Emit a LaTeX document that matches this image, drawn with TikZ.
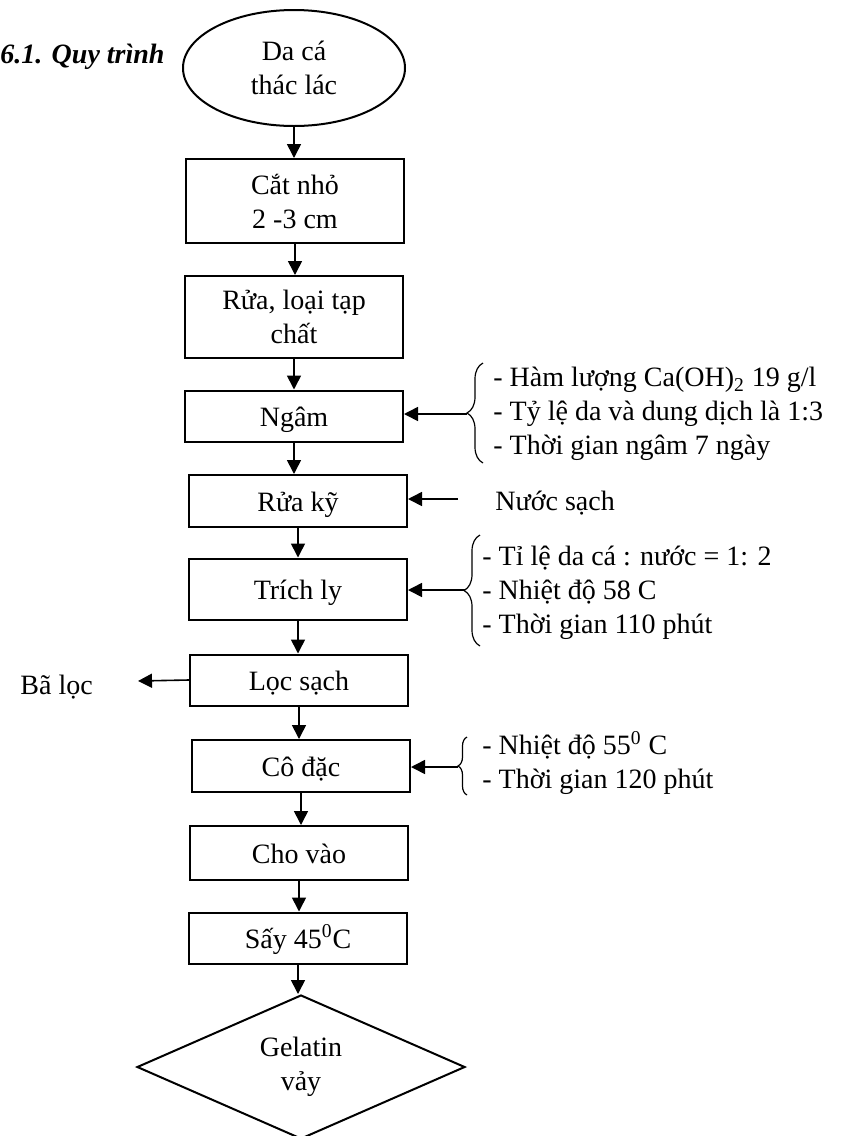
\documentclass[tikz,border=0pt]{standalone}
\usepackage{fontspec}
\setmainfont{Liberation Serif}
\usepackage{tikz}
\usetikzlibrary{arrows.meta,positioning,calc,shapes.geometric,decorations.pathreplacing}

\newcommand\flowfont{\fontsize{14}{17}\selectfont}
\tikzset{
  stepbox/.style={draw,line width=1pt,minimum width=109pt,inner sep=0pt,align=center,font=\flowfont},
  oneline/.style={text height=10pt,text depth=0pt},
  flow/.style={line width=0.8pt,-{Triangle[length=7pt,width=7pt]}},
  note/.style={anchor=west,align=left,inner sep=0pt,font=\flowfont},
  brc/.style={decorate,decoration={brace,amplitude=#1},line width=0.6pt},
  brc/.default=8pt
}

\begin{document}
\begin{tikzpicture}[x=0.5pt,y=-0.5pt]
  \useasboundingbox (0,0) rectangle (843,1136);
  \node[anchor=base west,inner sep=0pt,font=\flowfont\bfseries\itshape] (ttl) at (0,63) {6.1. Quy trình};
  \node[draw,ellipse,line width=1pt,minimum width=111pt,minimum height=58pt,inner sep=0pt,align=center,font=\flowfont] (src) at (294,68) {Da cá\\thác lác};
  % main line of steps
  \foreach \nm/\xx/\yy/\hh/\st/\txt in {cat/295/201/42/{}/{Cắt nhỏ\\2 -3 cm}, rua/294/317/41/{}/{Rửa, loại tạp\\chất},
      ngam/294/416/25.5/oneline/{Ngâm}, ruaky/298/501/26/oneline/{Rửa kỹ}, trich/298/589/30.5/oneline/{Trích ly},
      loc/299/680/25.5/oneline/{Lọc sạch}, co/301/766/26/oneline/{Cô đặc}, cho/299/853/27/oneline/{Cho vào},
      say/298/938/25.5/oneline/{Sấy 45\textsuperscript{0}C}}{
    \node[stepbox,\st,minimum height=\hh pt] (\nm) at (\xx,\yy) {\txt};
  }
  \node[draw,diamond,aspect=2.28,line width=1pt,minimum width=164pt,minimum height=72pt,inner sep=0pt,align=center,font=\flowfont] (gel) at (301,1067) {Gelatin\\vảy};
  \foreach \a/\b in {src/cat,cat/rua,rua/ngam,ngam/ruaky,ruaky/trich,trich/loc,loc/co,co/cho,cho/say,say/gel}
    \draw[flow] (\a.south) -- (\a.south |- \b.north);

  % side inputs
  \draw[brc] (483,463) -- (483,363);
  \coordinate (t1) at (467,414);
  \draw[flow] (t1) -- (t1 -| ngam.east);
  \node[note] (n1) at (493,414) {- Hàm lượng Ca(OH)\textsubscript{2} 19 g/l\\- Tỷ lệ da và dung dịch là 1:3\\- Thời gian ngâm 7 ngày};

  \coordinate (w1) at (458,499);
  \draw[flow] (w1) -- (w1 -| ruaky.east);
  \node[note] (nuoc) at (495,503) {Nước sạch};

  \draw[brc] (480,646) -- (480,535);
  \coordinate (t2) at (465,590);
  \draw[flow] (t2) -- (t2 -| trich.east);
  \node[note] (n2) at (482,593) {- Tỉ lệ da cá : nước = 1: 2\\- Nhiệt độ 58 C\\- Thời gian 110 phút};

  \coordinate (b0) at (138,681);
  \draw[flow] (loc.west) -- (b0);
  \node[note] (bl) at (20,687) {Bã lọc};

  \draw[brc=4.5pt] (467,795) -- (467,737);
  \coordinate (t3) at (458,767);
  \draw[flow] (t3) -- (t3 -| co.east);
  \node[note] (n3) at (482,763) {- Nhiệt độ 55\textsuperscript{0} C\\- Thời gian 120 phút};
\end{tikzpicture}
\end{document}
